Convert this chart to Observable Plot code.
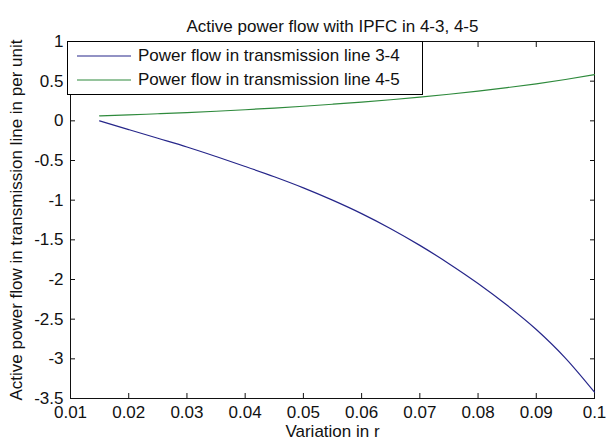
<!DOCTYPE html>
<html>
<head>
<meta charset="utf-8">
<script src="https://cdn.jsdelivr.net/npm/d3@7"></script>
<script src="https://cdn.jsdelivr.net/npm/@observablehq/plot@0.6"></script>
<style>
  html, body { margin: 0; padding: 0; background: #fff; }
  #wrap { position: relative; width: 606px; height: 441px; font-family: "Liberation Sans", Arial, sans-serif; }
  #legend { position: absolute; left: 67px; top: 41px; width: 354px; height: 52px; border: 1px solid #000; background: #fff; font-size: 17px; color: #111; }
  #legend .row { position: absolute; left: 0; height: 20px; display: flex; align-items: center; }
  #legend svg { margin-left: 9px; margin-right: 7px; }
</style>
</head>
<body>
<div id="wrap"></div>
<script>
const titleText = "Active power flow with IPFC in 4-3, 4-5";
const xLabel = "Variation in r";
const yLabel = "Active power flow in transmission line in per unit";
const seriesNames = ["Power flow in transmission line 3-4", "Power flow in transmission line 4-5"];
const seriesColors = ["#26268a", "#2e8a3c"];

const rValues = [0.015, 0.02, 0.025, 0.03, 0.035, 0.04, 0.045, 0.05, 0.055, 0.06, 0.065, 0.07, 0.075, 0.08, 0.085, 0.09, 0.095, 0.1];
const flow34 = [0, -0.11, -0.22, -0.33, -0.45, -0.575, -0.705, -0.845, -1.0, -1.17, -1.36, -1.57, -1.8, -2.05, -2.325, -2.63, -2.99, -3.42];
const flow45 = [0.063, 0.075, 0.089, 0.104, 0.121, 0.140, 0.161, 0.184, 0.209, 0.236, 0.266, 0.299, 0.335, 0.375, 0.419, 0.467, 0.521, 0.582];

const xTicks = [0.01, 0.02, 0.03, 0.04, 0.05, 0.06, 0.07, 0.08, 0.09, 0.1];
const xTickLabels = ["0.01", "0.02", "0.03", "0.04", "0.05", "0.06", "0.07", "0.08", "0.09", "0.1"];
const yTicks = [1, 0.5, 0, -0.5, -1, -1.5, -2, -2.5, -3, -3.5];
const yTickLabels = ["1", "0.5", "0", "-0.5", "-1", "-1.5", "-2", "-2.5", "-3", "-3.5"];

const rows = [];
rValues.forEach((r, i) => {
  rows.push({r, v: flow34[i], s: seriesNames[0]});
});
rValues.forEach((r, i) => {
  rows.push({r, v: flow45[i], s: seriesNames[1]});
});

const xFmt = d => xTickLabels[xTicks.findIndex(t => Math.abs(t - d) < 1e-9)];
const yFmt = d => yTickLabels[yTicks.findIndex(t => Math.abs(t - d) < 1e-9)];

const chart = Plot.plot({
  width: 606,
  height: 441,
  marginLeft: 70,
  marginRight: 12,
  marginTop: 41,
  marginBottom: 43,
  style: {fontFamily: "'Liberation Sans', Arial, sans-serif", fontSize: "17px", background: "#fff", color: "#111"},
  x: {domain: [0.01, 0.1], label: null},
  y: {domain: [-3.5, 1], label: null},
  color: {domain: seriesNames, range: seriesColors},
  marks: [
    Plot.frame({stroke: "#111"}),
    Plot.axisX({anchor: "bottom", ticks: xTicks, tickSize: 0, tickPadding: 7, tickFormat: xFmt, label: null, fontSize: 17}),
    Plot.axisX({anchor: "bottom", ticks: xTicks, tickSize: -5, tickFormat: () => "", label: null}),
    Plot.axisX({anchor: "top", ticks: xTicks, tickSize: -5, tickFormat: () => "", label: null}),
    Plot.axisY({anchor: "left", ticks: yTicks, tickSize: 0, tickPadding: 7, tickFormat: yFmt, label: null, fontSize: 17}),
    Plot.axisY({anchor: "left", ticks: yTicks, tickSize: -5, tickFormat: () => "", label: null}),
    Plot.axisY({anchor: "right", ticks: yTicks, tickSize: -5, tickFormat: () => "", label: null}),
    Plot.line(rows, {x: "r", y: "v", z: "s", stroke: "s", strokeWidth: 1.2, curve: "monotone-x"}),
    Plot.text([titleText], {frameAnchor: "top", dy: -15, fontSize: 17, lineAnchor: "middle", fill: "#111"}),
    Plot.text([xLabel], {frameAnchor: "bottom", dy: 33, fontSize: 17, lineAnchor: "middle", fill: "#111"}),
    Plot.text([yLabel], {frameAnchor: "left", dx: -54, rotate: -90, textAnchor: "middle", fontSize: 17, lineAnchor: "middle", fill: "#111"})
  ]
});

const wrap = document.getElementById("wrap");
wrap.appendChild(chart);

const legend = document.createElement("div");
legend.id = "legend";
seriesNames.forEach((name, i) => {
  const row = document.createElement("div");
  row.className = "row";
  row.style.top = (4 + i * 24) + "px";
  row.innerHTML = `<svg width="54" height="4"><line x1="0" x2="54" y1="2" y2="2" stroke="${seriesColors[i]}" stroke-width="1.2"/></svg><span>${name}</span>`;
  legend.appendChild(row);
});
wrap.appendChild(legend);
</script>
</body>
</html>
